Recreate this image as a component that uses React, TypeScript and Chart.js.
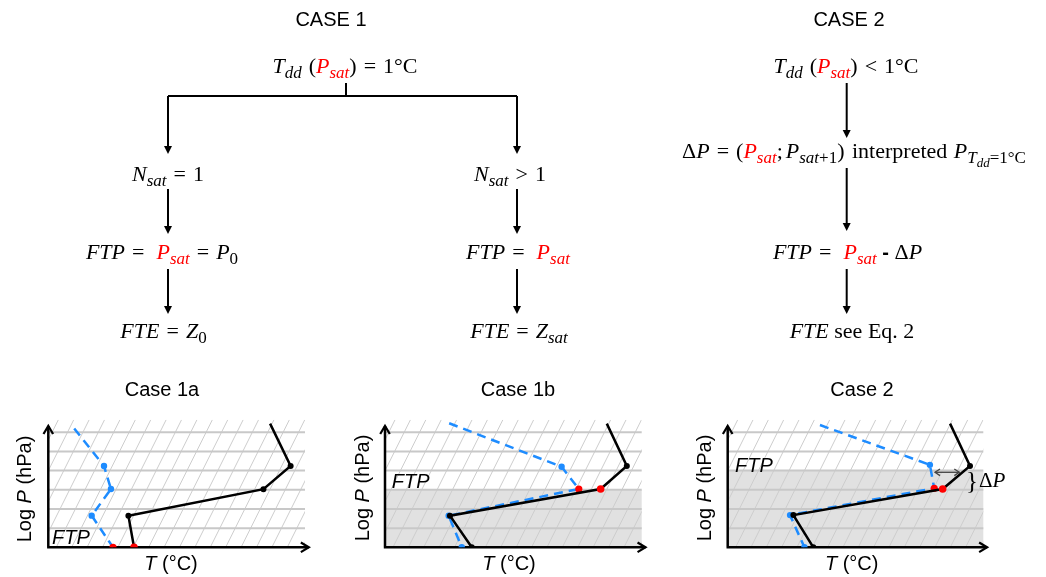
import React, { useEffect, useRef } from 'react';
import { Chart, registerables } from 'chart.js';
Chart.register(...registerables);

// ---------------- data ----------------
const pressureGridLevels = [1, 2, 3, 4, 5, 6];
const panelTitles = ['Case 1a', 'Case 1b', 'Case 2'];

// Case 1a
const case1aTempT = [86.4, 94.4, 83.8, 31.2, 33.4];
const case1aTempP = [6.45, 4.24, 3.03, 1.65, 0];
const case1aDewT = [10.1, 21.7, 24.4, 16.9, 25.2];
const case1aDewP = [6.2, 4.24, 3.04, 1.65, 0];
const case1aFtpIndex = 4;
// Case 1b
const case1bTempT = [86.4, 94.2, 84.0, 25.3, 33.8];
const case1bTempP = [6.45, 4.24, 3.04, 1.65, 0];
const case1bDewT = [25.0, 68.8, 75.5, 24.8, 29.9];
const case1bDewP = [6.47, 4.2, 3.04, 1.65, 0];
const case1bFtpIndex = 2;
const case1bFtpLevel = 3;
// Case 2
const case2TempT = [87.0, 94.8, 84.1, 25.7, 33.5];
const case2TempP = [6.45, 4.24, 3.04, 1.68, 0];
const case2DewT = [36.1, 79.1, 80.8, 24.4, 30.0];
const case2DewP = [6.38, 4.3, 3.08, 1.68, 0];
const case2FtpIndex = 2;
const case2FtpLevel = 4;

// ---------------- styles ----------------
const SERIF = "'Liberation Serif', 'DejaVu Serif', serif";
const SANS = "'Liberation Sans', Arial, sans-serif";
const RED = '#ff0000';
const BLUE = '#1e8cff';
const GRID = '#c8c8c8';
const DIAG = '#cdcdcd';
const SHADE = '#e1e1e1';
const FS = 22, SS = 17, SSS = 12;
const ISO_SPACING = 6;
const ISO_OFFSET = 3.1;
const SKEW = 3.73;
const DIAG_TOP = 6.65;

type Run = { t: string; font: string; color?: string; dy?: number; pad?: number; padL?: number };
const it = (t: string, color?: string): Run => ({ t, font: `italic ${FS}px ${SERIF}`, color });
const rm = (t: string, color?: string): Run => ({ t, font: `${FS}px ${SERIF}`, color });
const sb = (t: string, color?: string): Run => ({ t, font: `italic ${SS}px ${SERIF}`, color, dy: 5 });
const sbr = (t: string): Run => ({ t, font: `${SS}px ${SERIF}`, dy: 5 });
const op = (t: string): Run => ({ t, font: `${FS}px ${SERIF}`, padL: 7, pad: 7 });
const gap = (w: number): Run => ({ t: '', font: `${FS}px ${SERIF}`, pad: w });

function drawRuns(ctx: CanvasRenderingContext2D, runs: Run[], cx: number, by: number, align = 'center') {
  let total = 0;
  const widths = runs.map((r) => {
    ctx.font = r.font;
    const w = ctx.measureText(r.t).width + (r.padL || 0) + (r.pad || 0);
    total += w;
    return w;
  });
  let x = align === 'center' ? cx - total / 2 : cx;
  ctx.textBaseline = 'alphabetic';
  ctx.textAlign = 'left';
  runs.forEach((r, i) => {
    ctx.font = r.font;
    ctx.fillStyle = r.color || '#000';
    ctx.fillText(r.t, x + (r.padL || 0), by + (r.dy || 0));
    x += widths[i];
  });
}

const flowTexts: { runs: Run[]; x: number; y: number }[] = [
  { runs: [{ t: 'CASE 1', font: `20px ${SANS}` }], x: 331, y: 26 },
  { runs: [{ t: 'CASE 2', font: `20px ${SANS}` }], x: 849, y: 26 },
  { runs: [it('T'), sb('dd'), gap(7), rm('('), it('P', RED), sb('sat', RED), rm(')'), op('='), rm('1°C')], x: 345, y: 73 },
  { runs: [it('N'), sb('sat'), op('='), rm('1')], x: 168, y: 181 },
  { runs: [it('FTP'), op('='), gap(5), it('P', RED), sb('sat', RED), op('='), it('P'), sbr('0')], x: 162, y: 259 },
  { runs: [it('FTE'), op('='), it('Z'), sbr('0')], x: 163.5, y: 338 },
  { runs: [it('N'), sb('sat'), op('>'), rm('1')], x: 510, y: 181 },
  { runs: [it('FTP'), op('='), gap(5), it('P', RED), sb('sat', RED)], x: 518, y: 259 },
  { runs: [it('FTE'), op('='), it('Z'), sb('sat')], x: 519, y: 338 },
  { runs: [it('T'), sb('dd'), gap(7), rm('('), it('P', RED), sb('sat', RED), rm(')'), op('<'), rm('1°C')], x: 846, y: 73 },
  {
    runs: [
      rm('Δ'), it('P'), op('='), rm('('), it('P', RED), sb('sat', RED), rm(';'), gap(3), it('P'), sb('sat'), sbr('+1'), rm(')'),
      gap(2), rm(' interpreted '), gap(1), it('P'), sb('T'), { t: 'dd', font: `italic ${SSS + 1}px ${SERIF}`, dy: 9 }, sbr('=1°C'),
    ],
    x: 854, y: 158,
  },
  { runs: [it('FTP'), op('='), gap(5), it('P', RED), sb('sat', RED), { t: ' - ', font: `bold 20px ${SANS}` }, rm('Δ'), it('P')], x: 847.5, y: 259 },
  { runs: [it('FTE'), rm(' see Eq. 2')], x: 852, y: 338 },
];

const flowLines: number[][] = [
  [346, 83, 346, 96],
  [168, 96, 517, 96],
];
const flowArrows: number[][] = [
  [168, 96, 154], [517, 96, 154],
  [168, 189, 234], [168, 269, 314],
  [517, 189, 234], [517, 269, 314],
  [846.7, 83, 138], [846.7, 168, 231], [846.7, 269, 314],
];

function drawFlow(ctx: CanvasRenderingContext2D) {
  ctx.clearRect(0, 0, 1046, 370);
  flowTexts.forEach((f) => drawRuns(ctx, f.runs, f.x, f.y));
  ctx.strokeStyle = '#000';
  ctx.fillStyle = '#000';
  ctx.lineWidth = 2;
  flowLines.forEach(([x1, y1, x2, y2]) => {
    ctx.beginPath();
    ctx.moveTo(x1, y1);
    ctx.lineTo(x2, y2);
    ctx.stroke();
  });
  flowArrows.forEach(([x, y1, y2]) => {
    ctx.beginPath();
    ctx.moveTo(x, y1);
    ctx.lineTo(x, y2 - 6);
    ctx.stroke();
    ctx.beginPath();
    ctx.moveTo(x - 4, y2 - 8);
    ctx.lineTo(x + 4, y2 - 8);
    ctx.lineTo(x, y2);
    ctx.closePath();
    ctx.fill();
  });
}

type Panel = {
  title: string; left: number; width: number; padL: number; padR: number;
  tT: number[]; tP: number[]; dT: number[]; dP: number[]; ftp: number; shadeTop: number | null;
  titleX: number; yLabX: number; yLabY: number; xLabX: number; ftpX: number; ftpY: number; extra?: boolean;
};

const panels: Panel[] = [
  { title: panelTitles[0], left: 0, width: 345, padL: 48.3, padR: 40, tT: case1aTempT, tP: case1aTempP, dT: case1aDewT, dP: case1aDewP, ftp: case1aFtpIndex, shadeTop: null,
    titleX: 162, yLabX: 31, yLabY: 489, xLabX: 171, ftpX: 52, ftpY: 544 },
  { title: panelTitles[1], left: 345, width: 345, padL: 40, padR: 48.3, tT: case1bTempT, tP: case1bTempP, dT: case1bDewT, dP: case1bDewP, ftp: case1bFtpIndex, shadeTop: case1bFtpLevel,
    titleX: 518, yLabX: 369, yLabY: 488, xLabX: 509, ftpX: 391.7, ftpY: 488 },
  { title: panelTitles[2], left: 690, width: 356, padL: 37.7, padR: 62.7, tT: case2TempT, tP: case2TempP, dT: case2DewT, dP: case2DewP, ftp: case2FtpIndex, shadeTop: case2FtpLevel,
    titleX: 862, yLabX: 711, yLabY: 488, xLabX: 851.7, ftpX: 735, ftpY: 472, extra: true },
];

const PANEL_TOP = 370;

function chevron(ctx: CanvasRenderingContext2D, x: number, y: number, dir: 'up' | 'right', s = 8) {
  ctx.beginPath();
  if (dir === 'up') {
    ctx.moveTo(x - s * 0.6, y + s);
    ctx.lineTo(x, y);
    ctx.lineTo(x + s * 0.6, y + s);
  } else {
    ctx.moveTo(x - s, y - s * 0.6);
    ctx.lineTo(x, y);
    ctx.lineTo(x - s, y + s * 0.6);
  }
  ctx.stroke();
}

function makeChart(canvas: HTMLCanvasElement, p: Panel) {
  const decor = {
    id: 'decor',
    beforeDatasetsDraw(chart: any) {
      const { ctx, scales } = chart;
      const X = (v: number) => scales.x.getPixelForValue(v);
      const Y = (v: number) => scales.y.getPixelForValue(v);
      ctx.save();
      if (p.shadeTop != null) {
        ctx.fillStyle = SHADE;
        ctx.fillRect(X(0), Y(p.shadeTop), X(100) - X(0), Y(0) - Y(p.shadeTop));
      }
      ctx.save();
      ctx.beginPath();
      ctx.rect(X(0), Y(DIAG_TOP), X(100) - X(0), Y(0) - Y(DIAG_TOP));
      ctx.clip();
      ctx.strokeStyle = DIAG;
      ctx.lineWidth = 1;
      for (let t0 = ISO_OFFSET - 60; t0 <= 100; t0 += ISO_SPACING) {
        ctx.beginPath();
        ctx.moveTo(X(t0), Y(0));
        ctx.lineTo(X(t0 + SKEW * DIAG_TOP), Y(DIAG_TOP));
        ctx.stroke();
      }
      ctx.restore();
      ctx.strokeStyle = GRID;
      ctx.lineWidth = 2;
      pressureGridLevels.forEach((L) => {
        ctx.beginPath();
        ctx.moveTo(X(0), Y(L));
        ctx.lineTo(X(100), Y(L));
        ctx.stroke();
      });

      // axes with arrows
      ctx.strokeStyle = '#000';
      ctx.lineWidth = 2.5;
      ctx.lineCap = 'butt';
      ctx.beginPath();
      ctx.moveTo(X(0), Y(0));
      ctx.lineTo(X(0), Y(6.33));
      ctx.moveTo(X(0) - 1.2, Y(0));
      ctx.lineTo(X(101.5), Y(0));
      ctx.stroke();
      ctx.lineWidth = 2.2;
      chevron(ctx, X(0), Y(6.33), 'up');
      chevron(ctx, X(101.5), Y(0), 'right');
      ctx.restore();
    },
    afterDatasetsDraw(chart: any) {
      const { ctx } = chart;
      ctx.save();
      // texts in page coordinates
      ctx.translate(-p.left, -PANEL_TOP);
      drawRuns(ctx, [{ t: p.title, font: `20px ${SANS}` }], p.titleX, 396);
      drawRuns(ctx, [{ t: 'T', font: `italic 20px ${SANS}` }, { t: ' (°C)', font: `20px ${SANS}` }], p.xLabX, 570);
      drawRuns(ctx, [{ t: 'FTP', font: `italic 20px ${SANS}` }], p.ftpX, p.ftpY, 'left');
      ctx.save();
      ctx.translate(p.yLabX, p.yLabY);
      ctx.rotate(-Math.PI / 2);
      drawRuns(ctx, [{ t: 'Log ', font: `20px ${SANS}` }, { t: 'P', font: `italic 20px ${SANS}` }, { t: ' (hPa)', font: `20px ${SANS}` }], 0, 0);
      ctx.restore();
      if (p.extra) {
        // delta P annotation
        ctx.strokeStyle = '#444';
        ctx.lineWidth = 1.3;
        ctx.beginPath();
        ctx.moveTo(935, 472.3);
        ctx.lineTo(959.3, 472.3);
        ctx.stroke();
        ctx.beginPath();
        ctx.moveTo(940, 469);
        ctx.lineTo(935, 472.3);
        ctx.lineTo(940, 475.6);
        ctx.moveTo(954.3, 469);
        ctx.lineTo(959.3, 472.3);
        ctx.lineTo(954.3, 475.6);
        ctx.stroke();
        drawRuns(ctx, [{ t: '}', font: `25px ${SERIF}` }], 966, 489, 'left');
        drawRuns(ctx, [{ t: 'Δ', font: `21px ${SERIF}` }, { t: 'P', font: `italic 21px ${SERIF}` }], 979, 487, 'left');
      }
      ctx.restore();
    },
  };

  const tRadius = p.tT.map((_, i) => (i === 0 ? 0 : i === p.ftp ? 3.8 : 3));
  const tColor = p.tT.map((_, i) => (i === p.ftp ? RED : '#000'));
  const dRadius = p.dT.map((_, i) => (i === 0 ? 0 : i === p.ftp ? 3.6 : 3.2));
  const dColor = p.dT.map((_, i) => (i === p.ftp ? RED : BLUE));

  return new Chart(canvas, {
    type: 'scatter',
    data: {
      datasets: [
        {
          label: 'Temperature',
          data: p.tT.map((t, i) => ({ x: t, y: p.tP[i] })),
          showLine: true,
          borderColor: '#000',
          borderWidth: 2.5,
          pointRadius: tRadius,
          pointBackgroundColor: tColor,
          pointBorderWidth: 0,
          order: 1,
        },
        {
          label: 'Dew point',
          data: p.dT.map((t, i) => ({ x: t, y: p.dP[i] })),
          showLine: true,
          borderColor: BLUE,
          borderWidth: 2.5,
          borderDash: [9, 6],
          pointRadius: dRadius,
          pointBackgroundColor: dColor,
          pointBorderWidth: 0,
          order: 2,
        },
      ],
    },
    options: {
      responsive: false,
      animation: false,
      events: [],
      layout: { padding: { left: p.padL, right: p.padR, top: 43.1, bottom: 29.7 } },
      scales: {
        x: { type: 'linear', min: 0, max: 100, display: false },
        y: { type: 'linear', min: 0, max: 7, display: false },
      },
      plugins: { legend: { display: false }, tooltip: { enabled: false }, title: { display: false } },
    },
    plugins: [decor],
  } as any);
}

export default function App() {
  const flowRef = useRef<HTMLCanvasElement>(null);
  const r0 = useRef<HTMLCanvasElement>(null);
  const r1 = useRef<HTMLCanvasElement>(null);
  const r2 = useRef<HTMLCanvasElement>(null);
  const refs = [r0, r1, r2];

  useEffect(() => {
    const fc = flowRef.current;
    if (fc) {
      const ctx = fc.getContext('2d');
      if (ctx) drawFlow(ctx);
    }
    const charts = panels.map((p, i) => makeChart(refs[i].current as HTMLCanvasElement, p));
    return () => charts.forEach((c) => c.destroy());
  }, []);

  return (
    <div style={{ position: 'fixed', left: 0, top: 0, width: 1046, height: 577, background: '#fff', overflow: 'hidden' }}>
      <canvas ref={flowRef} width={1046} height={370} style={{ position: 'absolute', left: 0, top: 0 }} />
      {panels.map((p, i) => (
        <canvas
          key={p.title}
          ref={refs[i]}
          width={p.width}
          height={207}
          style={{ position: 'absolute', left: p.left, top: PANEL_TOP, width: p.width, height: 207 }}
        />
      ))}
    </div>
  );
}
